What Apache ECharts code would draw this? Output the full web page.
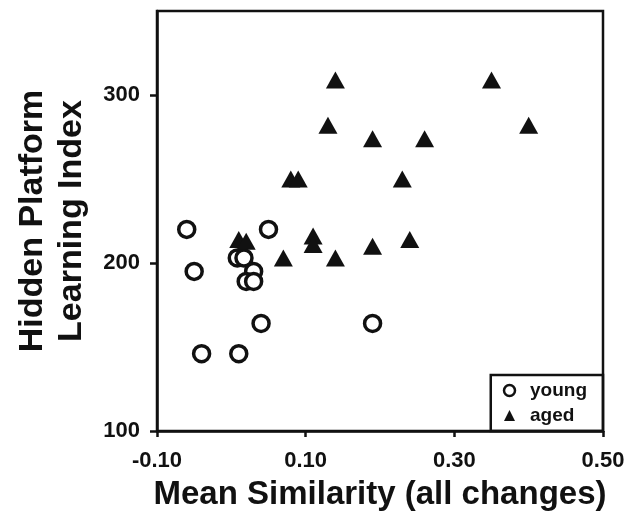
<!DOCTYPE html>
<html>
<head>
<meta charset="utf-8">
<script src="https://cdn.jsdelivr.net/npm/echarts@6/dist/echarts.min.js"></script>
<style>
  html, body { margin: 0; padding: 0; background: #fff; }
  #main { width: 633px; height: 523px; }
</style>
</head>
<body>
<div id="main"></div>
<script>
// 数据
var youngData = [
    [-0.06, 220], [0.05, 220], [-0.05, 195],
    [0.008, 203], [0.017, 203], [0.03, 195],
    [0.02, 189], [0.03, 189], [0.04, 164],
    [0.19, 164], [-0.04, 146], [0.01, 146]
];
var agedData = [
    [0.14, 309], [0.35, 309], [0.13, 282], [0.40, 282],
    [0.19, 274], [0.26, 274], [0.08, 250], [0.09, 250],
    [0.23, 250], [0.01, 214], [0.02, 213], [0.11, 216],
    [0.11, 211], [0.07, 203], [0.14, 203], [0.19, 210],
    [0.24, 214]
];
var yTicks = [100, 200, 300];
var xName = 'Mean Similarity (all changes)';
var yName = 'Hidden Platform\nLearning Index';

var ink = '#111';
var font = 'Liberation Sans, Arial, sans-serif';

var myChart = echarts.init(document.getElementById('main'));

var option = {
    backgroundColor: '#fff',
    animation: false,
    grid: {
        left: 157,
        right: 30,
        top: 11,
        bottom: 92,
        show: true,
        borderColor: ink,
        borderWidth: 2.5
    },
    legend: {
        orient: 'vertical',
        right: 30,
        bottom: 92,
        padding: [6, 16, 6, 12],
        borderColor: ink,
        borderWidth: 2.5,
        itemWidth: 11,
        itemHeight: 11,
        itemGap: 6,
        textStyle: { color: ink, fontSize: 19, fontWeight: 'bold', fontFamily: font, padding: [0, 0, 0, 10] },
        data: [
            { name: 'young', icon: 'circle', itemStyle: { color: '#fff', borderColor: ink, borderWidth: 2.5 } },
            { name: 'aged', icon: 'triangle', itemStyle: { color: ink, borderWidth: 0 } }
        ]
    },
    xAxis: {
        type: 'value',
        min: -0.1,
        max: 0.5,
        interval: 0.2,
        name: xName,
        nameLocation: 'middle',
        nameGap: 47,
        nameTextStyle: { color: ink, fontSize: 33, fontWeight: 'bold', fontFamily: font },
        splitLine: { show: false },
        axisLine: { onZero: false, lineStyle: { color: ink, width: 2.5 } },
        axisTick: { length: 6, lineStyle: { color: ink, width: 2.5 } },
        axisLabel: {
            margin: 19,
            color: ink,
            fontSize: 22,
            fontWeight: 'bold',
            fontFamily: font,
            formatter: function (v) { return v.toFixed(2); }
        }
    },
    yAxis: {
        type: 'value',
        min: 100,
        max: 350,
        interval: 100,
        name: yName,
        nameLocation: 'middle',
        nameRotate: 90,
        nameGap: 66,
        nameTextStyle: { color: ink, fontSize: 34, fontWeight: 'bold', fontFamily: font, lineHeight: 39 },
        splitLine: { show: false },
        axisLine: { onZero: false, lineStyle: { color: ink, width: 2.5 } },
        axisTick: { length: 7, customValues: yTicks, lineStyle: { color: ink, width: 2.5 } },
        axisLabel: {
            margin: 17,
            customValues: yTicks,
            color: ink,
            fontSize: 22,
            fontWeight: 'bold',
            fontFamily: font
        }
    },
    series: [
        {
            name: 'young',
            type: 'scatter',
            symbol: 'circle',
            symbolSize: 16,
            itemStyle: { color: '#fff', borderColor: ink, borderWidth: 3.5, opacity: 1 },
            data: youngData
        },
        {
            name: 'aged',
            type: 'scatter',
            symbol: 'triangle',
            symbolSize: [19, 17],
            itemStyle: { color: ink, opacity: 1 },
            data: agedData
        }
    ]
};
myChart.setOption(option);
</script>
</body>
</html>
